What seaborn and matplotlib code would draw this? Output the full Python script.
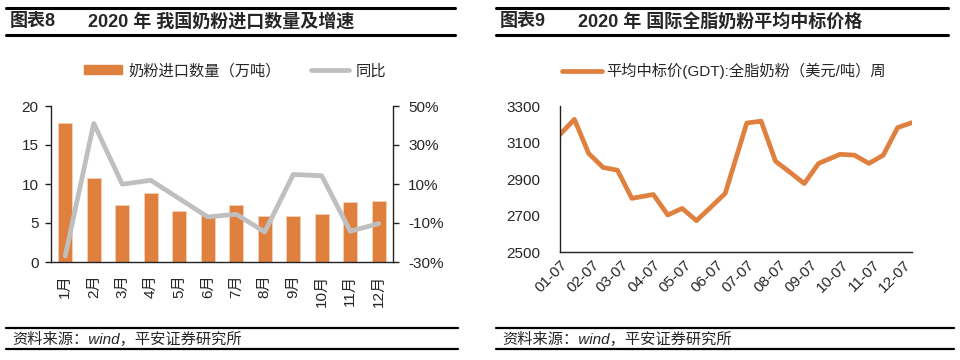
import matplotlib
matplotlib.use("Agg")
import matplotlib.pyplot as plt
import matplotlib.dates as mdates
from matplotlib.lines import Line2D
from matplotlib.patches import Patch
import numpy as np
import pandas as pd
import seaborn as sns

# --- data: chart 8, monthly milk powder imports 2020
months = ["1月", "2月", "3月", "4月", "5月", "6月", "7月", "8月", "9月", "10月", "11月", "12月"]
import_volume = [17.8, 10.8, 7.3, 8.9, 6.55, 6.0, 7.3, 5.85, 5.85, 6.2, 7.65, 7.8]   # 万吨
import_yoy = [-26.9, 41.1, 9.9, 11.9, 2.5, -6.9, -5.5, -14.6, 14.9, 14.2, -14.2, -10.3]  # %

# --- data: chart 9, GDT whole milk powder average winning price 2020
gdt_dates = ["2020-01-07", "2020-01-21", "2020-02-04", "2020-02-18", "2020-03-03", "2020-03-17",
             "2020-04-07", "2020-04-21", "2020-05-05", "2020-05-19", "2020-06-02", "2020-06-16",
             "2020-07-07", "2020-07-21", "2020-08-04", "2020-08-18", "2020-09-01", "2020-09-15",
             "2020-10-06", "2020-10-20", "2020-11-03", "2020-11-17", "2020-12-01", "2020-12-15"]
gdt_price = [3144, 3227, 3040, 2964, 2949, 2795, 2816, 2704, 2740, 2673, 2747, 2822,
             3207, 3217, 2998, 2938, 2876, 2986, 3036, 3031, 2986, 3031, 3182, 3209]

ORANGE = "#E0803F"
GREY = "#BFBFBF"
W, H = 960, 360

sns.set_style("white")
plt.rcParams['font.family'] = ['Liberation Sans', 'Noto Sans CJK SC']
plt.rcParams['axes.unicode_minus'] = False

fig = plt.figure(figsize=(9.6, 3.6), dpi=100)


def fx(px):
    return px / W


def fy(py):
    return 1 - py / H


def hline(x0, x1, y, lw):
    fig.add_artist(Line2D([fx(x0), fx(x1)], [fy(y), fy(y)], color="black", lw=lw))


def style_spines(ax):
    for s in ["top", "right"]:
        ax.spines[s].set_visible(False)
    for s in ["left", "bottom"]:
        ax.spines[s].set_color("#222222")
        ax.spines[s].set_linewidth(1.0)


# ---------------- left panel ----------------
hline(6, 455, 7.5, 2.2)
hline(6, 455, 34.5, 2.2)
fig.text(fx(10), fy(22), "图表8", fontsize=13, weight="bold", va="center")
fig.text(fx(88), fy(22), "2020 年 我国奶粉进口数量及增速", fontsize=13, weight="bold", va="center")

ax1 = fig.add_axes([fx(51), fy(262), fx(393 - 51), (262 - 106) / H])
sns.barplot(x=months, y=import_volume, color=ORANGE, saturation=1, width=0.5,
            edgecolor="#F6D2B8", linewidth=0.6, ax=ax1)
ax1.set_xlim(-0.5, len(months) - 0.5)
ax1.set_ylim(0, 20)
ax1.set_yticks([0, 5, 10, 15, 20])
ax1.set_xlabel("")
ax1.set_ylabel("")
ax1.set_xticks(np.arange(len(months)))
ax1.set_xticklabels(months, rotation=90)
ax1.set_xticks(np.arange(len(months) - 1) + 0.5, minor=True)
ax1.tick_params(axis="x", which="major", length=0, pad=9, labelsize=11)
ax1.tick_params(axis="x", which="minor", direction="in", length=4, width=1, color="#222222")
ax1.tick_params(axis="y", direction="out", length=4, width=1, color="#222222", pad=5, labelsize=11)
style_spines(ax1)

ax2 = ax1.twinx()
sns.lineplot(x=np.arange(len(months)), y=import_yoy, color=GREY, lw=3.4, ax=ax2, legend=False)
ax2.set_ylim(-30, 50)
ax2.set_yticks([-30, -10, 10, 30, 50])
ax2.set_yticklabels([f"{v}%" for v in [-30, -10, 10, 30, 50]])
ax2.set_ylabel("")
ax2.tick_params(axis="y", direction="out", length=4, width=1, color="#222222", pad=7, labelsize=11)
for s in ["top", "left", "bottom"]:
    ax2.spines[s].set_visible(False)
ax2.spines["right"].set_color("#222222")
ax2.spines["right"].set_linewidth(1.0)
ax2.set_xlim(-0.5, len(months) - 0.5)

fig.legend([Patch(color=ORANGE), Line2D([], [], color=GREY, lw=3.4)],
           ["奶粉进口数量（万吨）", "同比"], loc="center", bbox_to_anchor=(fx(235), fy(71)),
           ncol=2, frameon=False, fontsize=11, handlelength=2.5, handleheight=0.55,
           columnspacing=2.0, handletextpad=0.4)

hline(6, 458, 327.5, 1.6)
hline(6, 458, 348.5, 1.6)
fig.text(fx(12), fy(339), "资料来源：wind，平安证券研究所", fontsize=11, style="italic", va="center")

# ---------------- right panel ----------------
hline(496, 948, 7.5, 2.2)
hline(496, 948, 34.5, 2.2)
fig.text(fx(500), fy(22), "图表9", fontsize=13, weight="bold", va="center")
fig.text(fx(578), fy(22), "2020 年 国际全脂奶粉平均中标价格", fontsize=13, weight="bold", va="center")

gdt = pd.DataFrame({"date": pd.to_datetime(gdt_dates), "price": gdt_price})
ax3 = fig.add_axes([fx(560), fy(252.3), fx(912 - 560), (252.3 - 106) / H])
sns.lineplot(data=gdt, x="date", y="price", color=ORANGE, lw=3.4, ax=ax3, legend=False)
ax3.set_xlim(gdt["date"].iloc[0], gdt["date"].iloc[-1])
ax3.set_ylim(2500, 3300)
ax3.set_yticks([2500, 2700, 2900, 3100, 3300])
ax3.set_xlabel("")
ax3.set_ylabel("")
ax3.xaxis.set_major_locator(mdates.MonthLocator(bymonthday=7))
ax3.xaxis.set_major_formatter(mdates.DateFormatter("%m-%d"))
ax3.tick_params(axis="x", direction="in", length=4, width=1, color="#222222", pad=4, labelsize=11)
ax3.tick_params(axis="y", direction="out", length=4, width=1, color="#222222", pad=10, labelsize=11)
for lab in ax3.get_xticklabels():
    lab.set_rotation(45)
    lab.set_ha("right")
    lab.set_rotation_mode("anchor")
style_spines(ax3)

fig.legend([Line2D([], [], color=ORANGE, lw=3.4)],
           ["平均中标价(GDT):全脂奶粉（美元/吨）周"], loc="center", bbox_to_anchor=(fx(724), fy(71)),
           frameon=False, fontsize=11, handlelength=2.6, handletextpad=0.3)

hline(496, 954, 327.5, 1.6)
hline(496, 954, 348.5, 1.6)
fig.text(fx(502), fy(339), "资料来源：wind，平安证券研究所", fontsize=11, style="italic", va="center")

fig.savefig("out.png", dpi=100)
